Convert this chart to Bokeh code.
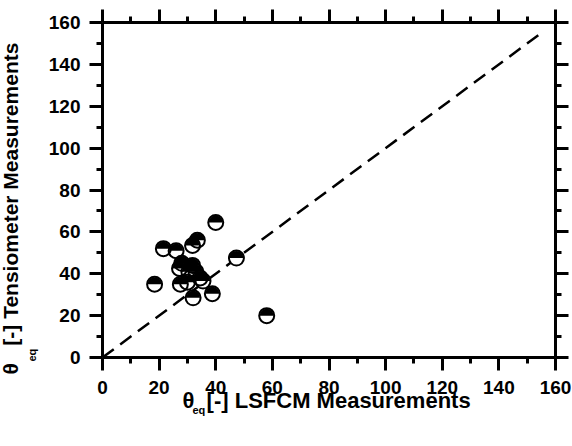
from math import pi
from bokeh.plotting import figure
from bokeh.models import LinearAxis, Range1d, FixedTicker, Title, CustomLabelingPolicy
from bokeh.embed import file_html
from bokeh.resources import INLINE

# Data
lsfcm = [21.5, 26.0, 31.8, 33.5, 40.0, 47.3, 28.0, 27.2, 31.8, 33.0, 34.5,
         18.4, 27.5, 30.0, 38.8, 32.0, 58.0, 30.5, 35.5]
tensio = [52.0, 51.0, 53.5, 56.0, 64.5, 47.5, 45.0, 42.5, 44.0, 41.0, 38.0,
          35.0, 35.0, 36.0, 30.5, 28.5, 20.0, 41.0, 36.5]
diag_x = [0, 155]
diag_y = [0, 155]
major_ticks = [0, 20, 40, 60, 80, 100, 120, 140, 160]
minor_ticks = [10, 30, 50, 70, 90, 110, 130, 150]

FONT = "Liberation Sans"
NB = "\u00a0"

p = figure(width=572, height=446, output_backend="svg", toolbar_location=None,
           x_range=Range1d(0, 160), y_range=Range1d(0, 160),
           x_axis_location=None, y_axis_location=None,
           min_border_left=102, min_border_right=17, min_border_top=22, min_border_bottom=89)
p.outline_line_color = None
p.xgrid.visible = False
p.ygrid.visible = False

for loc in ["left", "below", "right", "above"]:
    ax = LinearAxis()
    ax.ticker = FixedTicker(ticks=major_ticks, minor_ticks=minor_ticks)
    ax.axis_line_width = 3
    ax.axis_line_color = "black"
    ax.major_tick_line_width = 3
    ax.minor_tick_line_width = 3
    ax.major_tick_line_color = "black"
    ax.minor_tick_line_color = "black"
    ax.major_tick_in = 0
    ax.major_tick_out = 13
    ax.minor_tick_in = 0
    ax.minor_tick_out = 6
    ax.major_label_text_font = FONT
    ax.major_label_text_font_style = "bold"
    ax.major_label_text_color = "black"
    if loc in ("left", "below"):
        ax.major_label_text_font_size = "19px"
        ax.major_label_standoff = 9 if loc == "left" else 10
    else:
        ax.major_label_text_font_size = "0px"
        ax.major_label_standoff = 0
        ax.major_label_policy = CustomLabelingPolicy(code="return new Set()")
    p.add_layout(ax, loc)

# diagonal
p.line(diag_x, diag_y, line_color="black", line_width=2.5, line_dash="14 8")

# half-filled markers
p.scatter(lsfcm, tensio, size=15, marker="circle", fill_color="white", line_color=None)
p.wedge(lsfcm, tensio, radius=7, radius_units="screen", start_angle=0, end_angle=pi,
        fill_color="black", line_color=None)
p.scatter(lsfcm, tensio, size=15, marker="circle", fill_color=None, line_color="black",
          line_width=2)

tf = dict(text_font=FONT, text_font_style="bold", text_color="black")

# x title: main row, then subscript row below it
p.add_layout(Title(text="θ" + NB * 2 + "[-] LSFCM Measurements", align="left", offset=80,
                   standoff=-21, text_font_size="22px", **tf), "below")
p.add_layout(Title(text="eq", align="left", offset=90, standoff=-2,
                   text_font_size="11px", **tf), "below")

# y title: subscript row (nearer axis), then main row
p.add_layout(Title(text="eq", align="left", offset=-4, standoff=16,
                   text_font_size="11px", **tf), "left")
p.add_layout(Title(text="θ" + NB * 3 + "[-] Tensiometer Measurements", align="left", offset=-17,
                   standoff=-12, text_font_size="21px", **tf), "left")

open("out.html", "w").write(file_html(p, INLINE))
